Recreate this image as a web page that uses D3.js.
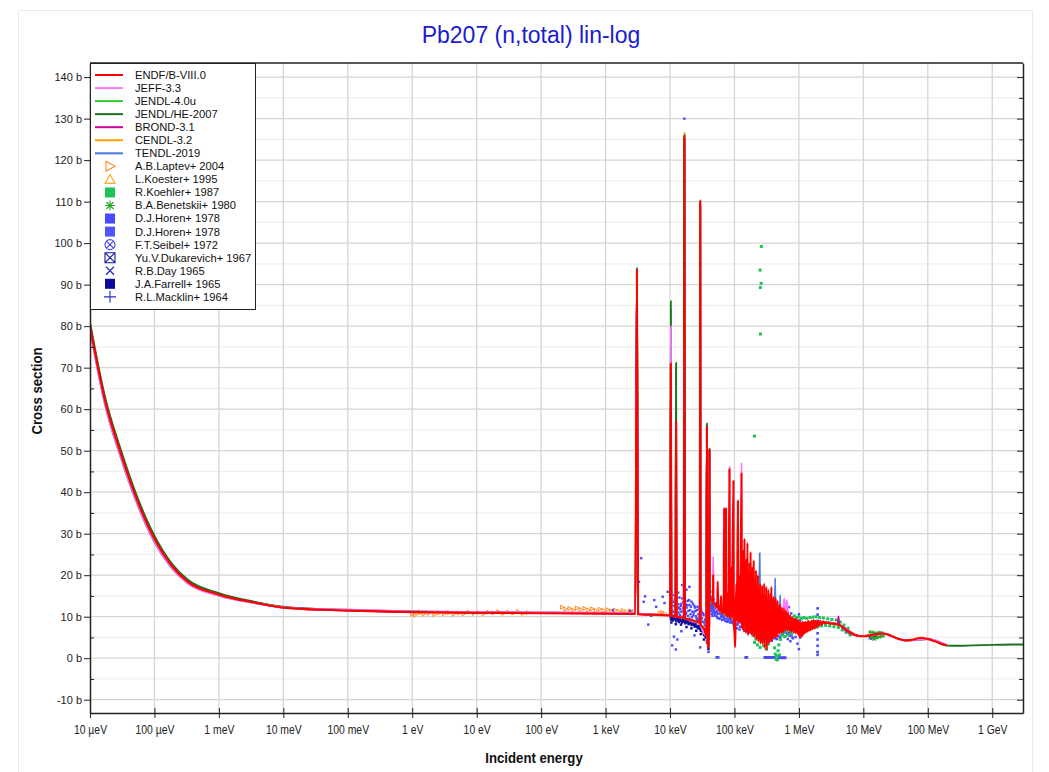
<!DOCTYPE html>
<html lang="en">
<head>
<meta charset="UTF-8">
<title>Pb207 (n,total) lin-log</title>
<style>
  body { margin: 0; background: #fff; }
  text { font-family: "Liberation Sans", Arial, sans-serif; }
</style>
</head>
<body>
<div id="container"></div>
<script src="https://d3js.org/d3.v7.min.js"></script>
<script>
// ---- tick labels ----
var xTickValues = [1e-5, 1e-4, 1e-3, 1e-2, 1e-1, 1, 10, 100, 1e3, 1e4, 1e5, 1e6, 1e7, 1e8, 1e9];
var xTickLabels = ["10 µeV", "100 µeV", "1 meV", "10 meV", "100 meV", "1 eV", "10 eV", "100 eV",
                   "1 keV", "10 keV", "100 keV", "1 MeV", "10 MeV", "100 MeV", "1 GeV"];
var yTickValues = [-10, 0, 10, 20, 30, 40, 50, 60, 70, 80, 90, 100, 110, 120, 130, 140];
var yMinorValues = [-5, 5, 15, 25, 35, 45, 55, 65, 75, 85, 95, 105, 115, 125, 135];

// ---- evaluations: [energy eV, barn] below 1 keV, [energy keV, barn] above ----
var endfLow = [[1e-5,80],[1.7e-5,62.2],[3.06e-5,48.9],[5.5e-5,37.7],[1e-4,28.7],[1.82e-4,22.4],[3.3e-4,18.4],
  [1e-3,15.3],[3.56e-3,13.4],[1.17e-2,12.1],[0.1,11.5],[1,11.1],[10,10.95],[100,10.85],[1000,10.75]];
var endfRes = [[2.9,10.7],[3.06,93.5],[3.2,10.6],[6,10.5],[10.0,10.3],[10.3,71],[10.5,10.2],[12.1,10.1],[12.4,57],
  [12.7,10.0],[16.4,9.8],[16.7,125.8],[17.0,9.6],[22,9.2],[29.0,8.6],[29.4,110],[29.8,8.2],[34,7.0],[36.5,5.5],
  [37.3,55.7],[38,4.5],[39.8,2.6],[40.5,8],[40.9,50.3],[41.5,14.5],[44,14.0],[46.5,13.6],[46.7,20],[47,13.4],
  [50,12.8],[54,12.2],[55,18.5],[56,12.0],[60,11.4],[62,15],[63.5,11.2],[66,10.9],[68,10.8],[69,36.2],[70,10.7],
  [71.5,36.3],[72.5,10.5],[74,36.0],[75,10.4],[79,10.2],[80,16],[81,10.1],[83.6,45.5],[85,10.0],[88,9.8],[90,22],
  [91,9.7],[96.4,42.7],[97.6,9.5],[101,5],[102.5,2.7],[104,9.3],[107,18],[109,9.2],[113,37.9],[114.5,9.1],[118,8.6],
  [121,20],[123,8.6],[128.5,44.5],[130.5,8.5],
  [135,7],[137,26],[140,6.5],[143,28.8],[145,8],[148,21],[151,6],[154,24],[156,7.5],[159,27.8],[162,5.5],[165,19],
  [169,7],[172,23],[175,6],[178,25.6],[182,6],[185,17],[188,5.5],[192,22],[196,6.5],[199,23.6],[203,5],[207,18.5],
  [211,6],[215,21.2],[219,4.5],[223,16],[227,5.5],[231,20],[235,4],[240,15],[244,5],[249,18],[253,3.5],[258,14.5],
  [263,4.5],[268,17.5],[273,3.5],[278,13],[283,5.5],[289,18],[294,2.5],[299,14],[305,4.8],[311,17.2],[317,2],
  [322,12.5],[329,4.2],[335,16.5],[341,3.5],[347,13],[354,5],[360,15.5],[367,4],[374,17.2],[381,4.5],[388,12.5],
  [396,4.5],[403,14.8],[410,5.2],[418,11.8],[426,5],[434,14.5],[442,6],[450,11],[459,5],[467,13.8],[476,6.4],
  [485,11.2],[494,5.8],[503,13],[513,6.5],[522,10.8],[532,6],[542,12.2],[552,7],[562,10.5],[573,6.2],[584,12],
  [595,7.2],[606,10.2],[617,6.6],[629,11.5],[640,7.4],[652,10],[664,6.8],[677,11],[689,7.2],[702,9.8],[715,6.6],
  [729,10.4],[742,7],[756,9.6],[770,6.4],[785,10],[800,6.8],[814,9.4],[830,6.2],[845,9.6],[861,6.6],[877,9.2],
  [893,6],[910,9.5],[927,6.4],[944,9],[962,5.8],[980,9.2],[998,5.5],[1015,8.6],[1032,5],[1050,8.8],[1070,5.4],
  [1093,8.5],[1115,5.2],[1140,8.8],[1165,5.6],[1190,8.6],[1220,6],[1250,8.8],[1280,6.2],[1310,8.6],[1350,6.4],
  [1390,9],[1430,6.6],[1470,8.8],[1520,6.8],[1570,9],[1620,7],[1680,9.2],[1740,7.2],[1800,9],[1880,7.5],[1960,9],
  [2050,7.8],[2150,9],[2270,8.1],[2400,8.9],[2550,8.4],
  [2700,8.6],[3000,8.4],[3500,8.3],[4100,8.1],[4800,7.5],[5500,6.8],[6250,6.2],[7500,5.6],[8930,5.3],[10500,5.3],
  [12800,5.5],[16000,5.8],[20500,5.95],[25000,5.6],[29400,5.1],[36000,4.6],[44600,4.3],[52000,4.35],[60000,4.5],
  [70000,4.8],[81000,4.9],[92000,4.75],[102600,4.6],[120000,4.2],[139000,3.9],[165000,3.4],[198000,3.1]];

var jeffLow = [[1e-5,79.4],[1.7e-5,61.4],[3.06e-5,48.1],[5.5e-5,37.0],[1e-4,28.1],[1.82e-4,21.9],[3.3e-4,18.0],
  [1e-3,15.1],[3.56e-3,13.3],[1.17e-2,12.2],[0.1,11.7],[1,11.3],[10,11.15],[100,11.05],[1000,10.95]];
var jeffRes = [[2.9,10.9],[3.06,93],[3.2,10.8],[10.0,10.4],[10.3,80],[10.5,10.3],[12.1,10.2],[12.4,56],[12.7,10.1],
  [16.2,9.9],[16.45,76],[16.7,9.8],[29.0,8.7],[29.4,109],[29.8,8.3],[36.5,5.6],[37.3,55],[38,4.6],[39.8,2.8],
  [40.5,8],[40.9,50],[41.5,14.6],[46.0,13.6],[46.7,24.5],[47.5,13.2],[60,11.3],[70.5,10.7],[71.5,36],[72.5,10.6],
  [82.5,10.2],[83.6,46.1],[85,10.1],[100,9.6],[127,8.8],[128.5,47.1],[131,8.9],[200,9],[560,10],[590,14.5],
  [620,11],[650,14],[700,9],[1000,7.5],[2700,8.6],[4100,8.1],[8930,5.3],[20500,5.9],[44600,4.3],[102600,4.6],
  [198000,3.1]];

var jendl4Low = [[1e-5,80.3],[1.7e-5,62.6],[3.06e-5,49.3],[5.5e-5,38.1],[1e-4,29.0],[1.82e-4,22.7],[3.3e-4,18.6],
  [1e-3,15.5],[3.56e-3,13.5],[1.17e-2,12.2],[0.1,11.6],[1,11.2],[10,11.05],[100,10.95],[1000,10.85]];
var jendl4Res = [[2.9,10.8],[3.06,93],[3.2,10.7],[10.0,10.4],[10.3,84],[10.5,10.3],[12.1,10.2],[12.4,70],[12.7,10.1],
  [16.4,9.9],[16.7,125],[17.0,9.7],[29.0,8.7],[29.4,109],[29.8,8.3],[36.5,5.6],[37.3,56],[38,4.6],[39.8,2.7],
  [40.5,8],[40.9,50],[41.5,14.5],[60,11.3],[100,9.5],[135,9],[300,7],[600,7.5],[1000,7.2],[2700,8.6],[4100,8.1],
  [8930,5.3],[20000,5.9]];

var jendlHeLow = [[1e-5,81],[1.7e-5,63.2],[3.06e-5,49.9],[5.5e-5,38.6],[1e-4,29.5],[1.82e-4,23.0],[3.3e-4,18.9],
  [1e-3,15.7],[3.56e-3,13.6],[1.17e-2,12.3],[0.1,11.6],[1,11.2],[10,11.05],[100,10.95],[1000,10.85]];
var jendlHeRes = [[2.9,10.8],[3.06,94],[3.2,10.7],[10.0,10.4],[10.3,86],[10.5,10.3],[12.1,10.2],[12.4,71.2],
  [12.7,10.1],[16.4,9.9],[16.7,126],[17.0,9.7],[29.0,8.7],[29.4,110.3],[29.8,8.3],[36.5,5.6],[37.3,56.6],[38,4.6],
  [39.8,2.7],[40.5,8],[40.9,50.5],[41.5,14.5],[60,11.3],[100,9.5],[135,9],[300,7],[600,7.5],[1000,7.2],[2700,8.6],
  [4100,8.1],[8930,5.3],[20500,5.9],[44600,4.3],[102600,4.6],[198000,3.05],[300000,3.0],[500000,3.1],
  [1000000,3.2],[2000000,3.3],[3000000,3.3]];

var brondLow = [[1e-5,80],[1.7e-5,62.1],[3.06e-5,48.8],[5.5e-5,37.6],[1e-4,28.6],[1.82e-4,22.3],[3.3e-4,18.3],
  [1e-3,15.3],[3.56e-3,13.4],[1.17e-2,12.1],[0.1,11.5],[1,11.15],[10,11.0],[100,10.9],[1000,10.8]];
var brondRes = [[2.9,10.7],[3.06,93],[3.2,10.6],[10.0,10.3],[10.3,70],[10.5,10.2],[16.4,9.8],[16.7,125],[17,9.6],
  [29.0,8.6],[29.4,109],[29.8,8.2],[36.5,5.5],[37.3,55],[38,4.5],[39.8,2.6],[40.5,8],[40.9,50],[41.5,14.5],
  [100,9.5],[135,9],[300,7],[600,7.5],[1000,7.2],[2700,8.6],[4000,8.2],[4110,10.1],[4220,8.1],[8930,5.3],
  [20000,5.9]];

var cendlLow = [[1e-5,79.8],[1.7e-5,61.9],[3.06e-5,48.6],[5.5e-5,37.5],[1e-4,28.5],[1.82e-4,22.2],[3.3e-4,18.3],
  [1e-3,15.3],[3.56e-3,13.4],[1.17e-2,12.1],[0.1,11.5],[1,11.15],[10,11.0],[100,10.9],[1000,10.8]];
var cendlRes = [[2.9,10.7],[3.06,93],[3.2,10.6],[10.0,10.3],[10.3,70],[10.5,10.2],[16.4,9.8],[16.7,126.6],[17,9.6],
  [29.0,8.6],[29.4,109],[29.8,8.2],[36.5,5.5],[37.3,55],[38,4.5],[39.8,2.6],[40.5,8],[40.9,50],[41.5,14.5],
  [100,9.5],[135,9],[300,7],[600,7.5],[1000,7.2],[2700,8.6],[4100,8.1],[8930,5.3],[20000,5.9]];

var tendlLow = [[1e-5,79.2],[1.7e-5,61.2],[3.06e-5,47.9],[5.5e-5,36.8],[1e-4,27.9],[1.82e-4,21.8],[3.3e-4,18.0],
  [1e-3,15.1],[3.56e-3,13.3],[1.17e-2,12.2],[0.1,11.7],[1,11.3],[10,11.1],[100,11.0],[1000,10.9]];
var tendlRes = [[2.9,10.8],[3.06,93],[3.2,10.7],[10.0,10.4],[10.3,70],[10.5,10.3],[16.4,9.9],[16.7,125],[17,9.7],
  [29.0,8.7],[29.4,109],[29.8,8.3],[36.5,5.6],[37.3,55],[38,4.6],[39.8,2.7],[40.5,8],[40.9,50],[41.5,14.5],
  [100,9.5],[135,9],[240,8],[246,25.3],[252,7],[420,6.5],[428,19.3],[436,6.5],[505,7],[512,15.2],[520,7],
  [1000,7.2],[2700,8.6],[4100,8.1],[8930,5.3],[20500,5.9],[44600,4.3],[102600,4.6],[198000,3.1]];

// ---- measurements: laptev / koester in eV, the rest in keV ----
var laptev = [[1.0,10.6],[1.1,10.4],[1.3,10.9],[1.5,10.6],[1.8,10.8],[2.2,10.5],[2.6,10.9],[3.1,10.7],[3.7,11.0],
  [4.4,10.6],[5.3,10.9],[6.3,10.7],[7.5,11.1],[9,10.8],[10.7,11.0],[12.8,10.7],[15.2,11.1],[18.2,10.9],[21.7,11.2],
  [25.9,10.8],[30.9,11.1],[36.9,10.9],[44,11.2],[52,10.8],[62,11.0],[210,12.3],[240,11.8],[275,12.0],[315,11.6],
  [360,12.1],[410,11.7],[470,12.0],[540,11.6],[620,11.9],[710,11.5],[810,11.8],[930,11.5],[1070,11.7],[1220,11.4],
  [1400,11.6],[1600,11.3],[1840,11.5],[2100,11.2],[2400,11.4],[2750,11.2],[6900,10.9],[7600,11.0],[8300,10.7]];
var koester = [[1.26,11.2]];
var koehler = [[195,5.5],[200,8.2],[205,3.8],[210,7.5],[215,4.6],[222,6.8],[228,3.2],[235,7.2],[242,5.0],[250,2.6],
  [258,6.4],[266,4.0],[275,7.0],[284,3.0],[293,5.8],[303,4.4],[313,2.2],[323,6.0],[334,3.4],[420,2.5],[430,1.0],
  [440,-0.2],[450,0.6],[462,-0.4],[475,1.8],[488,3.2],[500,0.8],[515,4.5],[540,5.5],[570,6.2],[600,5.2],[640,6.6],
  [680,5.6],[720,7.0],[760,6.0],[800,7.2],[850,10.2],[880,6.4],[920,9.8],[960,6.8],[1000,10.0],[1050,6.2],[1100,9.6],
  [1150,6.6],[1200,9.8],[1260,6.8],[1320,9.6],[1400,7.0],[1480,9.8],[1560,7.2],[1650,9.9],[1750,7.4],[1850,10.0],
  [1950,7.6],[2100,9.8],[2250,7.8],[2400,9.7],[2600,7.9],[2800,9.5],[3000,7.8],[3250,9.3],[3500,7.6],[3800,9.2],
  [4100,7.4],[4400,8.7],[4700,6.8],[5000,8.0],[5400,6.2],[5800,7.2],[6200,5.6],
  [253,78.1],[252,89.3],[260,90.3],[250,93.5],[261,99.2],[204,53.5]];
var benetskii = [[12800,6.3],[13500,5.0],[14200,6.2],[15000,4.8],[15800,6.0],[16600,5.0],[17500,6.2],[18400,5.2],
  [19400,6.1],[20400,5.4]];
var horen = [[1.3,11.6],[1.8,10.9],[2.4,11.4],[3.3,18.4],[3.56,24.1],[3.9,13.6],[4.1,14.9],[4.6,8.1],[5.7,14.0],
  [6.1,12.4],[7.7,14.8],[8.2,13.3],[9.2,16],[10.8,3.1],[12.3,2.1],[11.5,5.2],[13,4.5],[15,6.5],[29.4,2.6],[24,5.5],
  [10.2,16.5],[10.5,13.2],[10.8,11.5],[11.0,15.2],[11.3,9.8],[11.6,12.6],[11.9,14.1],[12.2,10.9],[12.6,13.5],
  [13.0,11.8],[13.4,15.8],[13.8,12.2],[14.2,10.4],[14.6,13.0],[15.0,11.2],[15.5,14.4],[16.0,12.0],[16.5,9.6],
  [17.2,13.2],[17.8,11.0],[18.4,12.8],[19.0,10.2],[19.7,14.0],[20.4,11.6],[21.1,12.4],[21.9,9.9],[22.7,13.1],
  [23.5,11.0],[24.4,12.2],[25.3,10.1],[26.2,11.6],[27.2,9.3],[28.2,12.0],[29.8,10.3],[30.9,11.2],[32.0,8.8],
  [33.2,10.4],[34.5,7.9],[35.8,9.5],[36.5,6.6],[37.8,8.2],[38.5,5.0],[39.2,3.5],[39.6,1.5],[15.5,17.6],[18,16.5],
  [20,17.2],[16.7,130],[37.0,31],[37.2,27],[37.4,22],[37.6,19],[36.8,16],
  [10.1,12.0],[10.4,10.6],[10.7,14.2],[11.1,11.2],[11.4,13.6],[11.8,10.2],[12.0,12.8],[12.4,14.8],[12.8,10.8],
  [13.2,13.0],[13.6,11.0],[14.0,14.6],[14.4,11.8],[14.8,12.6],[15.2,10.0],[15.7,13.4],[16.2,11.4],[16.8,14.2],
  [17.5,10.6],[18.1,12.2],[18.7,13.8],[19.3,11.4],[20.0,12.8],[20.8,10.6],[21.5,13.6],[22.3,11.2],[23.1,10.4],
  [23.9,12.6],[24.8,11.4],[25.8,9.6],[26.7,12.4],[27.7,10.6],[28.7,9.8],[30.3,11.8],[31.4,9.6],[32.6,10.8],
  [33.8,8.6],[35.1,9.2],[36.2,8.0],[37.1,7.0],[38.0,6.0],[38.9,4.4],[39.4,2.8],
  [41.3,15.2],[41.8,13.0],[42.2,16],[42.8,14.6],[43.3,12.6],[43.8,14.2],[44.3,11.8],[44.8,12.2],[45.3,14.8],
  [45.8,10.2],[46.5,12.8],[47.2,11.4],[47.8,14.2],[48.5,12.2],[49.5,10.8],[50.5,13.2],[51.5,11.2],[52.5,10.2],
  [53.5,12.6],[54.5,11.4],[56.5,9.6],[58,12.2],[59.5,10.8],[61,11.8],[62.5,9.9],[64,12.0],[65.5,10.2],[67,11.6],
  [69,9.4],[71,10.6],[73,11.6],[75,9.6],[77,11.0],[79,8.9],[81,10.2],[84,9.4],[86,10.8],[89,9.3],[92,8.6],[95,9.8],
  [98,8.0],[101,9.0],[104,8.2],[108,9.6],[112,8.1],[117,9.2],[122,7.6],[127,8.6],[133,7.8],
  [42,14.0],[42.5,12.2],[43,13.4],[43.5,11.3],[44,12.8],[44.5,10.6],[45,13.6],[45.5,11.8],[46,12.4],[47,10.9],
  [47.5,13.1],[48,11.5],[49,12.6],[50,10.3],[51,12.0],[52,13.2],[53,11.0],[54,9.8],[55,12.1],[56,10.7],[57.5,11.6],
  [59,9.5],[60,12.4],[61.5,10.5],[63,11.3],[64.5,9.2],[66,10.8],[68,9.9],[70,11.2],[72,9.0],[74,10.4],[76,8.8],
  [78,10.1],[80,9.3],[82.5,10.6],[85,8.6],[87.5,9.8],[90,8.9],[93,10.2],[96,8.4],[99,9.6],
  [102,7.8],[106,9.1],[110,7.2],[115,8.6],[120,6.9],[125,9.4],[131,7.5],[137,8.8],[143,6.6],[150,9.0],[157,7.1],
  [164,8.3],[172,6.2],[180,8.7],[188,5.9],[197,8.1],[206,6.4],[215,7.6],[225,5.5],[236,7.9],[247,5.2],[258,7.0],
  [270,4.6],[283,6.8],[296,4.2],[310,6.3],[324,5.0],[339,7.2],[355,4.4],[372,6.6],[389,5.6],[407,7.4],[426,4.8],
  [446,6.9],[467,5.4],[489,7.8],[512,4.9],[536,7.1],[561,5.8],[587,7.6],[614,5.2],[643,6.4],[673,4.6],[705,6.1],
  [738,4.1],[772,5.7],[808,4.8],[846,6.3],[886,5.1],[928,6.6],[700,12.3],[760,10.8],[1000,10.6],[1050,9.2],
  [950,3.5],[1000,2.2],[1050,5.0],[1100,7.0],
  [140,7.6],[146,8.4],[153,6.8],[160,7.9],[168,6.5],[176,7.6],[184,6.8],[192,7.2],[201,5.6],[211,7.0],[220,6.0],
  [230,6.6],[241,4.8],[252,6.2],[264,5.6],[277,6.0],[290,5.0],[303,5.6],[317,4.4],[332,6.0],[347,5.4],[363,5.8],
  [380,4.2],[398,6.2],[416,5.2],[436,6.0],[456,4.6],[478,6.4],[500,5.2],[524,6.6],[548,6.0],[574,6.8],[600,6.2],
  [628,7.0],[658,5.8],[689,6.8],[722,5.4],[756,6.6],[790,5.0]];
var horen2 = [[53,0.2],[56,0.2],[149,0.2],[156,0.2],[295,0.2],[305,0.2],[316,0.2],[327,0.2],[339,0.2],[351,0.2],
  [364,0.2],[377,0.2],[391,0.2],[405,0.2],[420,0.2],[480,0.1],[497,0.1],[515,0.1],[534,0.1],[553,0.1],[573,0.1],
  [594,0.1],[616,0.1],[1950,12],[1950,10.5],[1950,9],[1950,7.5],[1950,6],[1950,4.5],[1950,3],[1950,1.5],[1950,0.8]];
var seibel = [[14000,5.4]];
var dukarevich = [[14100,5.3]];
var day = [[12500,4.9],[13200,4.7],[14000,5.0],[14800,4.6],[15600,5.1]];
var farrell = [[1.6,10.7],[5.1,10.3],[10.2,9.9],[10.8,9.6],[11.4,9.8],[12,9.4],[12.7,9.7],[13.4,9.2],[14.2,9.5],
  [15,9.0],[15.9,9.3],[16.8,8.8],[17.8,9.1],[18.8,8.6],[19.9,8.9],[21,8.4],[22.2,8.6],[23.5,8.0],[24.8,8.2],
  [26.2,7.6],[27.7,7.8],[29.3,7.0],[31,7.1],[32.7,6.3],[34.5,5.8],[36.4,4.9],[38.3,3.6],[39.5,2.2],[10.5,8.6],
  [12.3,8.2],[14.8,8.1],[18,7.5],[21.5,7.2],[25.5,6.6],[30,5.8],[33.5,4.5],
  [10.4,9.3],[11.1,9.1],[11.7,9.5],[12.5,8.9],[13.1,9.4],[13.8,8.7],[14.5,9.1],[15.4,8.6],[16.3,8.9],[17.3,8.4],
  [18.3,8.7],[19.4,8.2],[20.5,8.5],[21.6,8.0],[22.8,8.2],[24.1,7.6],[25.5,7.8],[27,7.2],[28.5,7.4],[30.1,6.6],
  [31.8,6.5],[33.6,5.6],[35.4,5.2],[37.3,4.0],[39,2.8]];
var macklin = [[20,9.4],[26,8.9]];

// ---- layout ----
var width = 1049, height = 772;
var plot = {left: 90, right: 1023, top: 63, bottom: 713};
var x = d3.scaleLog().domain([1e-5, 3e9]).range([plot.left, plot.right]);
var y = d3.scaleLinear().domain([-13.2, 143.4]).range([plot.bottom, plot.top]);

function kev(rows) { return rows.map(function(d) { return [d[0] * 1e3, d[1]]; }); }

var svg = d3.select('#container').append('svg').attr('width', width).attr('height', height);
svg.append('rect').attr('x', 18.5).attr('y', 10.5).attr('width', 1014).attr('height', 800)
  .attr('fill', '#fff').attr('stroke', '#ebebeb');

svg.append('text').attr('x', 531).attr('y', 43).attr('text-anchor', 'middle')
  .attr('font-size', 23).attr('fill', '#1b1bd0').text('Pb207 (n,total) lin-log');

svg.append('defs').append('clipPath').attr('id', 'clip').append('rect')
  .attr('x', plot.left).attr('y', plot.top).attr('width', plot.right - plot.left).attr('height', plot.bottom - plot.top);

// grid
var grid = svg.append('g');
grid.selectAll('.ym').data(yMinorValues).enter().append('line')
  .attr('x1', plot.left).attr('x2', plot.right).attr('y1', d => y(d)).attr('y2', d => y(d))
  .attr('stroke', '#efefef').attr('stroke-width', 1.2);
grid.selectAll('.yM').data(yTickValues).enter().append('line')
  .attr('x1', plot.left).attr('x2', plot.right).attr('y1', d => y(d)).attr('y2', d => y(d))
  .attr('stroke', '#d6d6d6').attr('stroke-width', 1.3);
grid.selectAll('.xM').data(xTickValues.slice(1)).enter().append('line')
  .attr('y1', plot.top).attr('y2', plot.bottom).attr('x1', d => x(d)).attr('x2', d => x(d))
  .attr('stroke', '#d6d6d6').attr('stroke-width', 1.3);

// data
var data = svg.append('g').attr('clip-path', 'url(#clip)');
var line = d3.line().x(d => x(d[0])).y(d => y(d[1])).curve(d3.curveMonotoneX);

function dots(rows, color, size) {
  data.append('g').selectAll('rect').data(rows).enter().append('rect')
    .attr('x', d => x(d[0]) - size / 2).attr('y', d => y(d[1]) - size / 2)
    .attr('width', size).attr('height', size).attr('fill', color);
}
function marks(rows, pathStr, color) {
  data.append('g').selectAll('path').data(rows).enter().append('path')
    .attr('transform', d => 'translate(' + x(d[0]) + ',' + y(d[1]) + ')')
    .attr('d', pathStr).attr('fill', 'none').attr('stroke', color).attr('stroke-width', 1);
}

marks(laptev, 'M-1.5,-2L2,0L-1.5,2Z', '#ff8a1e');
marks(koester, 'M0,-2L2,1.5L-2,1.5Z', '#ffaa22');
dots(kev(horen), '#4848ff', 2.4);
dots(kev(horen2), '#4a4aee', 2.6);
dots(kev(farrell), '#0a0a9c', 2.4);
marks(kev(day), 'M-1.5,-1.5L1.5,1.5M-1.5,1.5L1.5,-1.5', '#2222b0');
marks(kev(macklin), 'M-2,0L2,0M0,-2L0,2', '#2a2ac0');
marks(kev(seibel), 'M-1.5,0a1.5,1.5 0 1,0 3,0a1.5,1.5 0 1,0 -3,0', '#4444ee');
marks(kev(dukarevich), 'M-1.5,-1.5h3v3h-3Z', '#1a1a99');

var libs = [
  {name: 'TENDL-2019', color: '#4a78e0', rows: tendlLow.concat(kev(tendlRes))},
  {name: 'CENDL-3.2', color: '#ffa200', rows: cendlLow.concat(kev(cendlRes))},
  {name: 'BROND-3.1', color: '#cc0099', rows: brondLow.concat(kev(brondRes))},
  {name: 'JENDL-4.0u', color: '#33cc33', rows: jendl4Low.concat(kev(jendl4Res))},
  {name: 'JENDL/HE-2007', color: '#1c721c', rows: jendlHeLow.concat(kev(jendlHeRes))},
  {name: 'JEFF-3.3', color: '#ff77ff', rows: jeffLow.concat(kev(jeffRes))}
];
dots(kev(koehler), '#1ec45a', 3);
marks(kev(benetskii), 'M-2,0L2,0M0,-2L0,2M-1.4,-1.4L1.4,1.4M-1.4,1.4L1.4,-1.4', '#22aa22');
libs.forEach(function(s) {
  data.append('path').datum(s.rows).attr('d', line).attr('fill', 'none')
    .attr('stroke', s.color).attr('stroke-width', 1.8);
});
data.append('path').datum(endfLow.concat(kev(endfRes))).attr('d', line).attr('fill', 'none')
  .attr('stroke', '#ff0000').attr('stroke-width', 2.1);

// axes
function styleAxis(g) {
  g.select('.domain').attr('stroke', '#222').attr('stroke-width', 1.5);
  g.selectAll('.tick line').attr('stroke', '#222');
  g.selectAll('.tick text').attr('fill', '#222');
}
var yAxisG = svg.append('g').attr('transform', 'translate(' + plot.left + ',0)')
  .call(d3.axisLeft(y).tickValues(yTickValues).tickFormat(d => d + ' b').tickSize(6).tickSizeOuter(0).tickPadding(2));
yAxisG.selectAll('text').attr('font-size', 11);
styleAxis(yAxisG);
svg.append('g').attr('transform', 'translate(' + plot.left + ',0)')
  .call(d3.axisLeft(y).tickValues(yMinorValues).tickFormat('').tickSize(-4).tickSizeOuter(0))
  .call(styleAxis).select('.domain').remove();
svg.append('g').attr('transform', 'translate(' + plot.right + ',0)')
  .call(d3.axisRight(y).tickValues(yTickValues).tickFormat('').tickSize(-6).tickSizeOuter(0)).call(styleAxis);
svg.append('g').attr('transform', 'translate(' + plot.right + ',0)')
  .call(d3.axisRight(y).tickValues(yMinorValues).tickFormat('').tickSize(-4).tickSizeOuter(0))
  .call(styleAxis).select('.domain').remove();

var xAxisG = svg.append('g').attr('transform', 'translate(0,' + plot.bottom + ')')
  .call(d3.axisBottom(x).tickValues(xTickValues).tickFormat(d => xTickLabels[xTickValues.indexOf(d)])
    .tickSize(5).tickSizeOuter(0).tickPadding(7));
xAxisG.selectAll('text').attr('font-size', 13).attr('transform', 'scale(0.8,1)');
styleAxis(xAxisG);
svg.append('g').attr('transform', 'translate(0,' + plot.bottom + ')')
  .call(d3.axisBottom(x).tickValues(xTickValues).tickFormat('').tickSize(-5).tickSizeOuter(0))
  .call(styleAxis).select('.domain').remove();
svg.append('line').attr('x1', plot.left).attr('x2', plot.right).attr('y1', plot.top).attr('y2', plot.top)
  .attr('stroke', '#222').attr('stroke-width', 1.5);

svg.append('text').attr('transform', 'translate(534,763) scale(0.88,1)').attr('text-anchor', 'middle')
  .attr('font-size', 15).attr('font-weight', 'bold').attr('fill', '#111').text('Incident energy');
svg.append('text').attr('transform', 'translate(42,391) rotate(-90) scale(0.88,1)')
  .attr('text-anchor', 'middle').attr('font-size', 15).attr('font-weight', 'bold').attr('fill', '#111')
  .text('Cross section');

// legend
var legendItems = [
  {name: 'ENDF/B-VIII.0', color: '#ff0000', type: 'line'},
  {name: 'JEFF-3.3', color: '#ff77ff', type: 'line'},
  {name: 'JENDL-4.0u', color: '#33cc33', type: 'line'},
  {name: 'JENDL/HE-2007', color: '#1c721c', type: 'line'},
  {name: 'BROND-3.1', color: '#cc0099', type: 'line'},
  {name: 'CENDL-3.2', color: '#ffa200', type: 'line'},
  {name: 'TENDL-2019', color: '#4a78e0', type: 'line'},
  {name: 'A.B.Laptev+ 2004', color: '#ff8a1e', type: 'M-4,-5L5,0L-4,5Z'},
  {name: 'L.Koester+ 1995', color: '#ffaa22', type: 'M0,-5L5,4L-5,4Z'},
  {name: 'R.Koehler+ 1987', color: '#1ec45a', type: 'sq'},
  {name: 'B.A.Benetskii+ 1980', color: '#22aa22', type: 'M-5,0L5,0M0,-5L0,5M-3.5,-3.5L3.5,3.5M-3.5,3.5L3.5,-3.5'},
  {name: 'D.J.Horen+ 1978', color: '#4848ff', type: 'sq'},
  {name: 'D.J.Horen+ 1978', color: '#5252ff', type: 'sq'},
  {name: 'F.T.Seibel+ 1972', color: '#4444ee', type: 'M-5,0a5,5 0 1,0 10,0a5,5 0 1,0 -10,0M-3.5,-3.5L3.5,3.5M-3.5,3.5L3.5,-3.5'},
  {name: 'Yu.V.Dukarevich+ 1967', color: '#1a1a99', type: 'M-5,-5h10v10h-10ZM-5,-5L5,5M-5,5L5,-5'},
  {name: 'R.B.Day 1965', color: '#2222b0', type: 'M-4,-4L4,4M-4,4L4,-4'},
  {name: 'J.A.Farrell+ 1965', color: '#0a0a9c', type: 'sq'},
  {name: 'R.L.Macklin+ 1964', color: '#2a2ac0', type: 'M-6,0L6,0M0,-6L0,6'}
];
var legend = svg.append('g');
legend.append('rect').attr('x', 90.5).attr('y', 63.5).attr('width', 165).attr('height', 246)
  .attr('fill', '#fff').attr('stroke', '#222').attr('stroke-width', 1);
var rows = legend.selectAll('g.item').data(legendItems).enter().append('g')
  .attr('transform', (d, i) => 'translate(0,' + (75 + i * 13.05) + ')');
rows.each(function(d) {
  var g = d3.select(this);
  if (d.type === 'line') {
    g.append('line').attr('x1', 95).attr('x2', 123).attr('stroke', d.color).attr('stroke-width', 2);
  } else if (d.type === 'sq') {
    g.append('rect').attr('x', 105).attr('y', -5).attr('width', 10).attr('height', 10).attr('fill', d.color);
  } else {
    g.append('path').attr('transform', 'translate(110,0)').attr('d', d.type)
      .attr('fill', 'none').attr('stroke', d.color).attr('stroke-width', 1.1);
  }
  g.append('text').attr('x', 135).attr('dy', '0.35em').attr('font-size', 11.2).attr('fill', '#111').text(d.name);
});
</script>
</body>
</html>
